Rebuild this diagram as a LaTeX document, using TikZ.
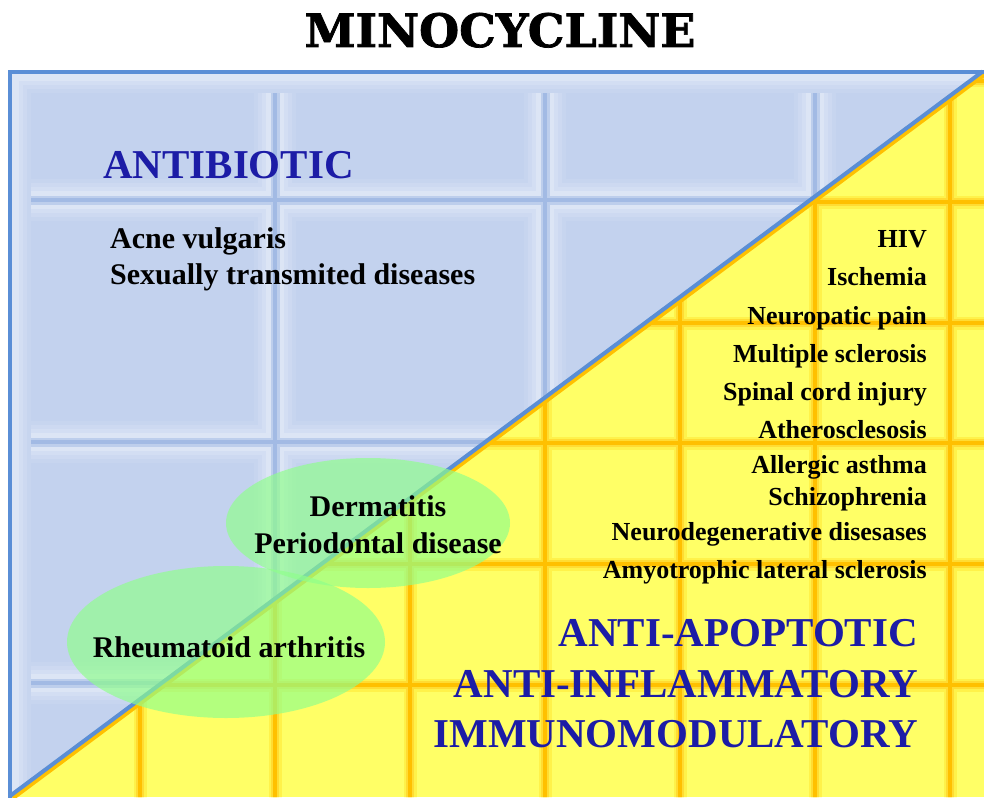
\documentclass[tikz,border=0pt]{standalone}
\usepackage{fontspec}
\setmainfont{Liberation Serif}
\newfontfamily\titlefont{DejaVu Serif}[BoldFeatures={FakeBold=1.6}]
\usetikzlibrary{shapes.geometric}
\definecolor{bbody}{HTML}{C3D2EE}
\definecolor{blight}{HTML}{DCE5F5}
\definecolor{bmid}{HTML}{BDCEEC}
\definecolor{bgrout}{HTML}{A2BAE4}
\definecolor{bborder}{HTML}{5A8ED6}
\definecolor{ybody}{HTML}{FFFF66}
\definecolor{ysoft}{HTML}{FFF24A}
\definecolor{ymid}{HTML}{FFDC33}
\definecolor{ygrout}{HTML}{FFC000}
\definecolor{txtblue}{HTML}{1C1CA6}
\definecolor{blobgreen}{RGB}{143,255,139}
\begin{document}
\begin{tikzpicture}[x=1pt,y=-1pt,
  bluetxt/.style={text=txtblue, font=\bfseries\fontsize{41}{48}\selectfont, inner sep=0pt},
  blk/.style={font=\bfseries\fontsize{30}{36}\selectfont, inner sep=0pt},
  lst/.style={font=\bfseries\fontsize{26}{30}\selectfont, inner sep=0pt, anchor=base east},
  blob/.style={ellipse, fill=blobgreen, fill opacity=0.67, draw=none, inner sep=0pt},
  bg0/.style={line width=42pt, bbody!85!blight},
  bg1/.style={line width=34pt, bbody!62!blight},
  bg2/.style={line width=26pt, bbody!35!blight},
  bg3/.style={line width=18pt, blight},
  bg4/.style={line width=9pt, bmid},
  bg5/.style={line width=4pt, bgrout},
  yg1/.style={line width=13pt, ysoft},
  yg2/.style={line width=8pt, ymid},
  yg3/.style={line width=4pt, ygrout}]
\useasboundingbox (0,0) rectangle (984,797);
\fill[white] (0,0) rectangle (984,797);
% blue tiled region
\begin{scope}
\clip (10,72) -- (984,73) -- (12,797) -- (10,797) -- cycle;
\fill[bbody] (10,72) rectangle (984,797);
\foreach \s in {bg0,bg1,bg2,bg3,bg4,bg5}{
  \foreach \x in {275,545,815}{\draw[\s] (\x,60) -- (\x,800);}
  \foreach \y in {200,442,683}{\draw[\s] (0,\y) -- (984,\y);}
}
\foreach \s in {bg0,bg1,bg2,bg3}{
  \draw[\s] (10,60) -- (10,800);
  \draw[\s] (0,72) -- (984,72);
}
\end{scope}
% yellow tiled region
\begin{scope}
\clip (984,73) -- (984,797) -- (12,797) -- cycle;
\fill[ybody] (0,60) rectangle (984,797);
\foreach \s in {yg1,yg2,yg3}{
  \foreach \x in {140,275,410,545,680,815,950}{\draw[\s] (\x,60) -- (\x,800);}
  \foreach \y in {81,202,323,443,564,685}{\draw[\s] (0,\y) -- (984,\y);}
}
\end{scope}
% border and diagonal
\coordinate (tl) at (10,72);
\coordinate (tr) at (984,72);
\coordinate (bl) at (10,797);
\coordinate (dtop) at (984,73);
\coordinate (dbot) at (12,797);
\draw[line width=7pt, ygrout] (dtop) -- (dbot);
\draw[line width=4pt, bborder] ([shift={(-1.2,-1.6)}]dtop) -- ([shift={(-1.2,-1.6)}]dbot);
\draw[line width=3.5pt, bborder, line cap=rect] (bl) -- (tl) -- (tr);
% ellipses
\node[blob, minimum width=318pt, minimum height=152pt] (rheumE) at (226,642) {};
\node[blob, minimum width=284pt, minimum height=130pt] (derm) at (368,523) {};
% title
\node[font=\titlefont\bfseries\fontsize{46}{50}\selectfont, anchor=base, inner sep=0pt] (title) at (500,47) {MINOCYCLINE};
% antibiotic side
\node[bluetxt, anchor=base west] (abx) at (103,178) {ANTIBIOTIC};
\node[blk, anchor=base west] (acne) at (110,248) {Acne vulgaris};
\node[blk, anchor=base west] (std) at (110,284) {Sexually transmited diseases};
% ellipse texts
\node[blk, anchor=base] (dermt) at (378,516) {Dermatitis};
\node[blk, anchor=base] (perio) at (378,553) {Periodontal disease};
\node[blk, anchor=base] (rheum) at (229,657) {Rheumatoid arthritis};
% right list
\node[lst] (l1) at (927,247) {HIV};
\node[lst] (l2) at (927,285) {Ischemia};
\node[lst] (l3) at (927,324) {Neuropatic pain};
\node[lst] (l4) at (927,362) {Multiple sclerosis};
\node[lst] (l5) at (927,400) {Spinal cord injury};
\node[lst] (l6) at (927,438) {Atherosclesosis};
\node[lst] (l7) at (927,473) {Allergic asthma};
\node[lst] (l8) at (927,505) {Schizophrenia};
\node[lst] (l9) at (927,540) {Neurodegenerative disesases};
\node[lst] (l10) at (927,578) {Amyotrophic lateral sclerosis};
% effects
\node[bluetxt, anchor=base east] (e1) at (918,646) {ANTI-APOPTOTIC};
\node[bluetxt, anchor=base east] (e2) at (918,697) {ANTI-INFLAMMATORY};
\node[bluetxt, anchor=base east] (e3) at (918,747) {IMMUNOMODULATORY};
\end{tikzpicture}
\end{document}
